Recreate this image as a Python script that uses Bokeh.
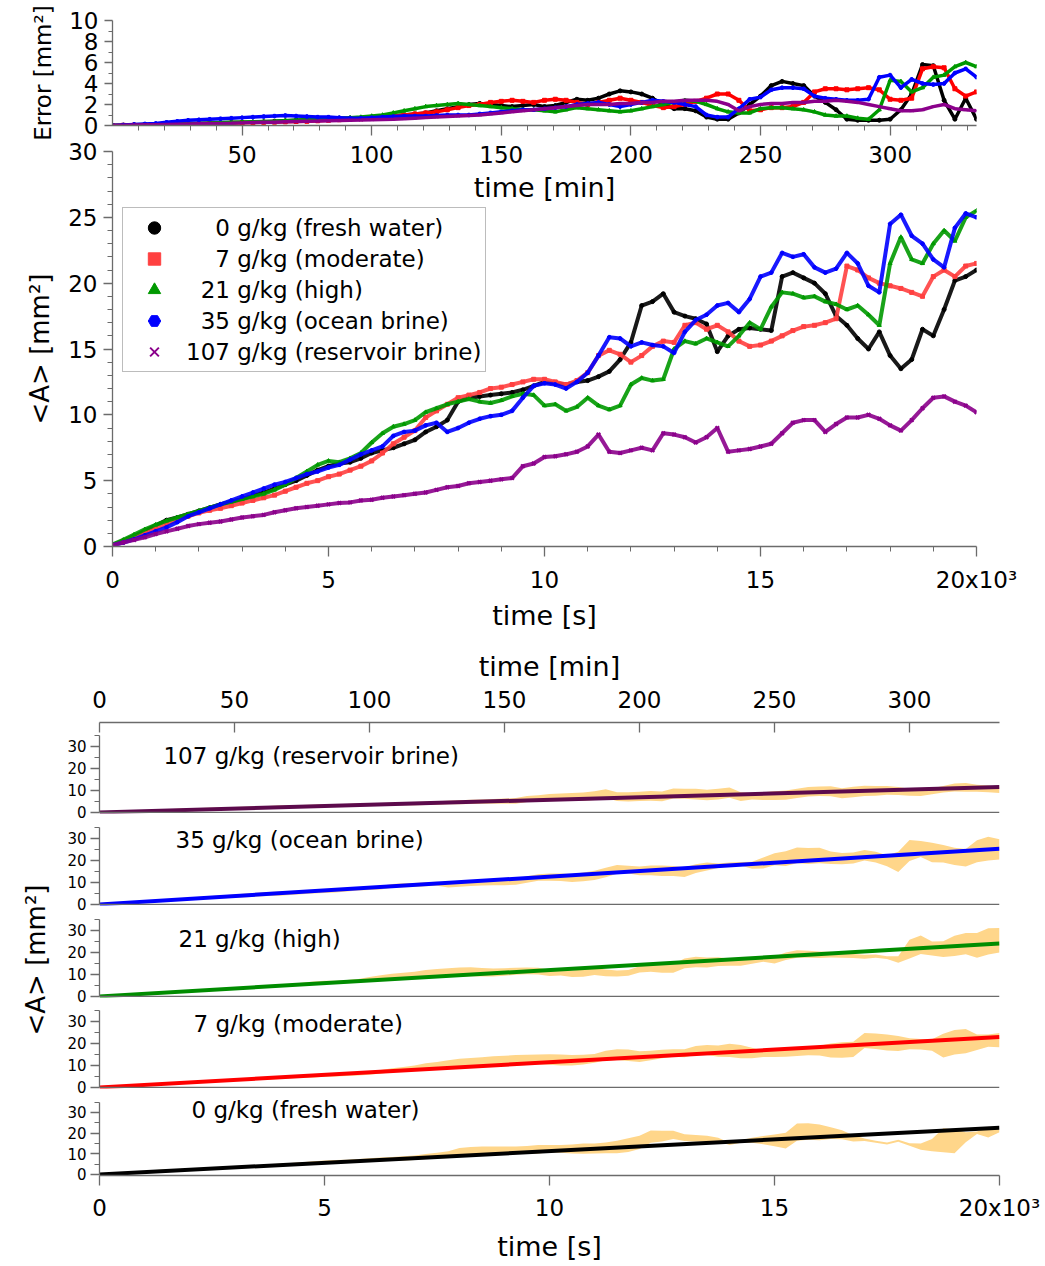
from bokeh.plotting import figure
from bokeh.models import Range1d, LinearAxis, FixedTicker, Legend, LegendItem, Span, Label
from bokeh.layouts import column, row
from bokeh.embed import file_html
from bokeh.resources import INLINE

FONT = "DejaVu Sans"
AXC = "#6b6b6b"

# ---------------- data ----------------
time_s = [0, 250, 500, 750, 1000, 1250, 1500, 1750, 2000, 2250, 2500, 2750, 3000, 3250, 3500, 3750,
          4000, 4250, 4500, 4750, 5000, 5250, 5500, 5750, 6000, 6250, 6500, 6750, 7000, 7250, 7500,
          7750, 8000, 8250, 8500, 8750, 9000, 9250, 9500, 9750, 10000, 10250, 10500, 10750, 11000,
          11250, 11500, 11750, 12000, 12250, 12500, 12750, 13000, 13250, 13500, 13750, 14000, 14250,
          14500, 14750, 15000, 15250, 15500, 15750, 16000, 16250, 16500, 16750, 17000, 17250, 17500,
          17750, 18000, 18250, 18500, 18750, 19000, 19250, 19500, 19750, 20000]

area_fresh = [0.1, 0.45, 0.8, 1.2, 1.6, 2.0, 2.2, 2.45, 2.7, 2.95, 3.2, 3.4, 3.6, 3.85, 4.1, 4.4,
              4.7, 5.0, 5.4, 5.8, 6.1, 6.3, 6.4, 6.7, 7.1, 7.3, 7.5, 7.8, 8.1, 8.7, 9.1,
              9.6, 11.0, 11.3, 11.4, 11.5, 11.6, 11.7, 11.9, 12.2, 12.5, 12.4, 12.3, 12.5, 12.6,
              12.9, 13.3, 14.2, 15.5, 18.3, 18.6, 19.2, 17.8, 17.5, 17.3, 16.9, 14.8, 16.0,
              16.5, 16.6, 16.5, 16.4, 20.5, 20.8, 20.4, 20.0, 19.2, 17.5, 16.8, 15.8, 15.0,
              16.3, 14.5, 13.5, 14.2, 16.5, 16.0, 18.0, 20.2, 20.5, 21.0]
area_moderate = [0.1, 0.4, 0.7, 1.0, 1.35, 1.7, 2.0, 2.3, 2.55, 2.75, 2.9, 3.1, 3.3, 3.5, 3.7, 3.9,
                 4.2, 4.5, 4.8, 5.0, 5.3, 5.5, 5.8, 6.1, 6.5, 7.1, 7.8, 8.3, 8.8, 9.8, 10.3,
                 10.8, 11.3, 11.5, 11.7, 12.0, 12.1, 12.3, 12.5, 12.7, 12.7, 12.5, 12.3, 12.6, 13.2,
                 14.5, 14.9, 14.6, 14.0, 14.5, 15.2, 15.6, 15.5, 16.8, 17.0, 16.5, 16.8, 16.3,
                 15.6, 15.2, 15.3, 15.6, 16.0, 16.4, 16.7, 16.8, 17.0, 17.3, 21.3, 21.0, 20.4,
                 20.0, 19.8, 19.6, 19.3, 19.0, 20.5, 21.0, 20.5, 21.3, 21.5]
area_high = [0.15, 0.5, 0.9, 1.3, 1.65, 1.95, 2.2, 2.45, 2.7, 2.95, 3.2, 3.4, 3.6, 3.8, 4.0, 4.3,
             4.7, 5.2, 5.7, 6.2, 6.5, 6.4, 6.7, 7.1, 7.9, 8.6, 9.1, 9.3, 9.6, 10.2, 10.5,
             10.8, 11.0, 11.2, 11.0, 10.9, 11.1, 11.4, 11.6, 11.5, 10.7, 10.8, 10.3, 10.6, 11.3,
             10.7, 10.4, 10.7, 12.3, 12.8, 12.6, 12.7, 15.0, 15.6, 15.4, 15.8, 15.5, 15.2,
             16.0, 17.0, 16.5, 18.2, 19.3, 19.2, 18.9, 19.0, 18.6, 18.4, 18.0, 18.3, 17.6,
             16.8, 21.5, 23.5, 21.8, 21.5, 23.0, 24.0, 23.2, 25.0, 25.5]
area_ocean = [0.1, 0.3, 0.55, 0.85, 1.15, 1.45, 1.85, 2.3, 2.6, 2.9, 3.2, 3.5, 3.8, 4.1, 4.4, 4.7,
              4.9, 5.2, 5.5, 5.7, 6.0, 6.2, 6.6, 7.0, 7.3, 7.6, 8.4, 8.7, 8.8, 9.2, 9.4,
              8.7, 9.0, 9.4, 9.7, 9.9, 10.0, 10.3, 11.3, 12.2, 12.4, 12.3, 12.0, 12.5, 13.2,
              14.5, 15.9, 15.8, 15.2, 15.5, 15.3, 15.2, 14.7, 16.3, 17.2, 17.6, 18.3, 18.5,
              17.8, 18.8, 20.5, 20.8, 22.3, 22.0, 22.2, 21.2, 20.8, 21.1, 22.3, 21.5, 19.8,
              19.3, 24.5, 25.2, 23.6, 23.0, 21.8, 21.2, 24.2, 25.3, 25.0]
area_reservoir = [0.1, 0.3, 0.5, 0.7, 0.95, 1.15, 1.35, 1.55, 1.7, 1.8, 1.9, 2.05, 2.2, 2.3, 2.4, 2.6,
                  2.75, 2.9, 3.0, 3.1, 3.2, 3.3, 3.35, 3.5, 3.55, 3.7, 3.8, 3.9, 4.0, 4.1, 4.3,
                  4.5, 4.6, 4.8, 4.9, 5.0, 5.1, 5.2, 6.1, 6.3, 6.8, 6.85, 7.0, 7.2, 7.6,
                  8.5, 7.2, 7.1, 7.3, 7.5, 7.3, 8.6, 8.5, 8.3, 7.9, 8.3, 9.0, 7.2,
                  7.3, 7.4, 7.6, 7.8, 8.6, 9.4, 9.6, 9.6, 8.7, 9.3, 9.8, 9.8, 10.0,
                  9.7, 9.2, 8.8, 9.6, 10.5, 11.3, 11.4, 11.0, 10.7, 10.2]

err_fresh = [0.0, 0.02, 0.05, 0.08, 0.1,
             0.12, 0.15, 0.18, 0.2, 0.22, 0.25, 0.28, 0.3,
             0.32, 0.35, 0.4, 0.45, 0.5, 0.55, 0.6, 0.65,
             0.7, 0.7, 0.75, 0.8, 0.85, 0.9, 1.0, 1.1,
             1.2, 1.4, 1.6, 1.8, 2.0, 2.1, 2.0, 1.9,
             1.8, 1.9, 2.0, 1.8, 1.9, 2.2, 2.5, 2.4,
             2.6, 3.0, 3.3, 3.2, 3.0, 2.6, 2.0, 1.6,
             1.6, 1.4, 0.8, 0.6, 0.6, 1.2, 2.0, 2.8,
             3.8, 4.2, 4.0, 3.8, 2.8, 2.2, 1.5, 0.6,
             0.5, 0.5, 0.5, 0.6, 1.5, 3.0, 5.8, 5.7,
             2.4, 0.6, 2.6, 0.6]
err_moderate = [0.0, 0.02, 0.04, 0.06, 0.08,
                0.1, 0.12, 0.14, 0.16, 0.18, 0.2, 0.22, 0.25,
                0.28, 0.3, 0.32, 0.35, 0.38, 0.4, 0.45, 0.5,
                0.55, 0.6, 0.65, 0.7, 0.8, 0.9, 1.0, 1.1,
                1.2, 1.3, 1.5, 1.7, 1.9, 2.0, 2.2, 2.3,
                2.4, 2.3, 2.2, 2.4, 2.5, 2.4, 2.2, 2.0,
                2.2, 2.4, 2.6, 2.4, 2.2, 1.9, 1.7, 1.8,
                2.0, 2.3, 2.6, 3.0, 3.0, 2.4, 1.4, 1.5,
                1.7, 1.7, 1.8, 2.2, 3.2, 3.5, 3.5, 3.4,
                3.5, 3.6, 3.4, 2.5, 2.4, 2.6, 5.4, 5.6,
                5.5, 3.5, 2.8, 3.2]
err_high = [0.0, 0.03, 0.06, 0.09, 0.12,
            0.15, 0.18, 0.2, 0.22, 0.25, 0.28, 0.3, 0.32,
            0.35, 0.38, 0.4, 0.45, 0.5, 0.55, 0.6, 0.65,
            0.7, 0.75, 0.8, 0.9, 1.0, 1.2, 1.4, 1.6,
            1.8, 1.9, 2.0, 2.1, 2.0, 1.9, 1.8, 1.7,
            1.6, 1.5, 1.5, 1.4, 1.3, 1.5, 1.7, 1.6,
            1.5, 1.4, 1.3, 1.4, 1.6, 1.8, 2.0, 2.2,
            2.4, 2.3, 2.0, 1.6, 1.3, 1.2, 1.2, 1.6,
            1.7, 1.7, 1.6, 1.5, 1.3, 1.0, 0.9, 0.9,
            0.7, 0.6, 1.5, 4.3, 4.2, 3.2, 3.6, 4.6,
            4.8, 5.6, 6.0, 5.6]
err_ocean = [0.0, 0.05, 0.1, 0.15, 0.2,
             0.3, 0.4, 0.5, 0.55, 0.6, 0.65, 0.7, 0.75,
             0.8, 0.85, 0.9, 0.95, 0.9, 0.85, 0.8, 0.8,
             0.75, 0.7, 0.7, 0.75, 0.8, 0.85, 0.9, 0.9,
             0.9, 0.95, 1.0, 1.0, 1.0, 1.1, 1.2, 1.3,
             1.4, 1.5, 1.5, 1.6, 1.7, 1.8, 2.0, 2.1,
             2.2, 2.0, 1.8, 2.0, 2.2, 2.4, 2.3, 2.2,
             2.0, 1.8, 1.0, 0.8, 0.8, 1.6, 2.5, 2.7,
             3.4, 3.6, 3.6, 3.5, 2.8, 2.6, 2.5, 2.4,
             2.4, 2.5, 4.6, 4.8, 3.6, 4.4, 4.0, 3.9,
             4.0, 5.0, 5.4, 4.6]
err_reservoir = [0.0, 0.02, 0.04, 0.06, 0.08,
                 0.1, 0.12, 0.14, 0.16, 0.18, 0.2, 0.22, 0.25,
                 0.28, 0.3, 0.32, 0.35, 0.38, 0.4, 0.42, 0.45,
                 0.48, 0.5, 0.52, 0.55, 0.58, 0.6, 0.65, 0.7,
                 0.75, 0.8, 0.85, 0.9, 0.95, 1.0, 1.1, 1.2,
                 1.3, 1.4, 1.5, 1.6, 1.7, 1.8, 1.9, 2.0,
                 2.0, 2.0, 2.1, 2.1, 2.2, 2.2, 2.3, 2.3,
                 2.4, 2.4, 2.4, 2.3, 2.0, 1.4, 1.8, 2.0,
                 2.1, 2.1, 2.2, 2.2, 2.3, 2.3, 2.4, 2.3,
                 2.2, 2.0, 1.8, 1.6, 1.4, 1.4, 1.5, 1.8,
                 2.0, 1.6, 1.5, 1.4]

series_names = ["0 g/kg (fresh water)", "7 g/kg (moderate)", "21 g/kg (high)",
                "35 g/kg (ocean brine)", "107 g/kg (reservoir brine)"]
legend_labels = ["\u2007\u20070 g/kg (fresh water)", "\u2007\u20077 g/kg (moderate)",
                 "\u200721 g/kg (high)", "\u200735 g/kg (ocean brine)",
                 "107 g/kg (reservoir brine)"]
fit_slope = [0.001130, 0.001145, 0.001200, 0.001265, 0.000575]   # mm^2 per s

areas = [area_fresh, area_moderate, area_high, area_ocean, area_reservoir]
errors = [err_fresh, err_moderate, err_high, err_ocean, err_reservoir]

marker_types = ["circle", "square", "triangle", "hex", "x"]
marker_colors = ["#000000", "#ff4040", "#009900", "#0000ff", "#8b008b"]
error_colors = ["#000000", "#ff0000", "#009900", "#0000ff", "#8b008b"]
fit_colors = ["#000000", "#ff0000", "#008c00", "#0000ff", "#5c0a4c"]
band_color = "#ffd68a"

X_MAX = 20000


def style_axis(ax, tick_size="23px", title_size="27px", major_out=10, minor_out=5,
               major_in=0, minor_in=0, standoff=10, title_standoff=6):
    ax.axis_line_color = AXC
    ax.axis_line_width = 1.3
    ax.major_tick_line_color = AXC
    ax.minor_tick_line_color = AXC
    ax.major_tick_line_width = 1.3
    ax.minor_tick_line_width = 1.0
    ax.major_tick_out = major_out
    ax.major_tick_in = major_in
    ax.minor_tick_out = minor_out
    ax.minor_tick_in = minor_in
    ax.major_label_text_font = FONT
    ax.major_label_text_font_size = tick_size
    ax.major_label_text_color = "black"
    ax.major_label_standoff = standoff
    ax.axis_label_text_font = FONT
    ax.axis_label_text_font_size = title_size
    ax.axis_label_text_font_style = "normal"
    ax.axis_label_text_color = "black"
    ax.axis_label_standoff = title_standoff


def base_fig(**kw):
    p = figure(output_backend="svg", toolbar_location=None,
               x_axis_location=None, y_axis_location=None, **kw)
    p.xgrid.visible = False
    p.ygrid.visible = False
    p.outline_line_color = None
    p.background_fill_color = None
    p.border_fill_color = None
    return p


# ---------------- error panel ----------------
pe = base_fig(width=1045, height=213, x_range=Range1d(0, X_MAX), y_range=Range1d(0, 10),
              min_border_left=112, min_border_right=69, min_border_top=20, min_border_bottom=88)
pe.extra_x_ranges = {"min": Range1d(0, X_MAX / 60)}
ax_e = LinearAxis(x_range_name="min", axis_label="time [min]",
                  ticker=FixedTicker(ticks=[50, 100, 150, 200, 250, 300],
                                     minor_ticks=[10, 20, 30, 40, 60, 70, 80, 90, 110, 120, 130, 140,
                                                  160, 170, 180, 190, 210, 220, 230, 240, 260, 270,
                                                  280, 290, 310, 320, 330]))
style_axis(ax_e)
pe.add_layout(ax_e, "below")
ay_e = LinearAxis(axis_label="Error [mm\u00b2]",
                  ticker=FixedTicker(ticks=[0, 2, 4, 6, 8, 10], minor_ticks=[1, 3, 5, 7, 9]))
style_axis(ay_e, title_size="23px", major_out=8, minor_out=4, standoff=6, title_standoff=10)
pe.add_layout(ay_e, "left")
for k in range(5):
    pe.line(time_s, errors[k], line_color=error_colors[k], line_width=3.5)
    pe.scatter(time_s, errors[k], marker=marker_types[k], size=4,
               fill_color=error_colors[k], line_color=error_colors[k])

# ---------------- main panel ----------------
pm = base_fig(width=1045, height=498, x_range=Range1d(0, X_MAX), y_range=Range1d(0, 30),
              min_border_left=112, min_border_right=69, min_border_top=16, min_border_bottom=86)
pm.margin = (-78, 0, 0, 0)
ax_m = LinearAxis(axis_label="time [s]",
                  ticker=FixedTicker(ticks=[0, 5000, 10000, 15000, 20000],
                                     minor_ticks=[1000, 2000, 3000, 4000, 6000, 7000, 8000, 9000,
                                                  11000, 12000, 13000, 14000, 16000, 17000, 18000, 19000]))
ax_m.major_label_overrides = {0: "0", 5000: "5", 10000: "10", 15000: "15", 20000: "20x10\u00b3"}
style_axis(ax_m, title_standoff=4)
pm.add_layout(ax_m, "below")
ay_m = LinearAxis(axis_label="<A> [mm\u00b2]",
                  ticker=FixedTicker(ticks=[0, 5, 10, 15, 20, 25, 30],
                                     minor_ticks=[v for v in range(0, 31) if v % 5]))
style_axis(ay_m, title_size="26px", major_out=9, minor_out=5, standoff=6, title_standoff=10)
pm.add_layout(ay_m, "left")

scatters = []
for k in range(5):
    pm.line(time_s, areas[k], line_color=marker_colors[k], line_width=4, line_alpha=0.9)
    if marker_types[k] == "x":
        r = pm.scatter(time_s, areas[k], marker="x", size=5, line_color=marker_colors[k],
                       line_width=2)
    else:
        r = pm.scatter(time_s, areas[k], marker=marker_types[k], size=4,
                       fill_color=marker_colors[k], line_color=marker_colors[k])
    scatters.append(r)

legend = Legend(items=[LegendItem(label=legend_labels[k], renderers=[scatters[k]]) for k in range(5)],
                location=(10, 174))
legend.label_text_font = FONT
legend.label_text_font_size = "23px"
legend.label_text_color = "black"
legend.border_line_color = "#7a7a7a"
legend.border_line_width = 1.2
legend.background_fill_color = "white"
legend.background_fill_alpha = 1.0
legend.padding = 4
legend.spacing = 0
legend.margin = 0
legend.label_height = 31
legend.glyph_height = 31
legend.glyph_width = 54
legend.label_standoff = 5
pm.add_layout(legend, "center")

# ---------------- stacked panels ----------------
panel_order = [4, 3, 2, 1, 0]            # top to bottom
frame_h = [91, 83, 83, 82, 83]
top_border = [89, 0, 0, 0, 0]
bottom_border = [9, 9, 9, 9, 84]
label_x = [1422, 1689, 1756, 2089, 2044]  # text placement (seconds)
label_y = [25.5, 29.5, 26.0, 29.0, 31.0]
PX_PER_UNIT = 2.2

panels = []
for i, k in enumerate(panel_order):
    p = base_fig(width=990, height=frame_h[i] + top_border[i] + bottom_border[i],
                 x_range=Range1d(0, X_MAX),
                 y_range=Range1d(-0.5, -0.5 + frame_h[i] / PX_PER_UNIT),
                 min_border_left=44, min_border_right=46,
                 min_border_top=top_border[i], min_border_bottom=bottom_border[i])
    ay = LinearAxis(bounds=(0, 35), ticker=FixedTicker(ticks=[0, 10, 20, 30], minor_ticks=[5, 15, 25, 35]))
    style_axis(ay, tick_size="15px", major_out=9, minor_out=5, standoff=4)
    p.add_layout(ay, "left")
    if i == 0:
        p.extra_x_ranges = {"min": Range1d(0, X_MAX / 60)}
        ax_t = LinearAxis(x_range_name="min", axis_label="time [min]",
                          ticker=FixedTicker(ticks=[0, 50, 100, 150, 200, 250, 300], minor_ticks=[]))
        style_axis(ax_t, major_out=0, major_in=10, minor_out=0, standoff=15, title_standoff=6)
        p.add_layout(ax_t, "above")
    if i == 4:
        ax_b = LinearAxis(axis_label="time [s]",
                          ticker=FixedTicker(ticks=[0, 5000, 10000, 15000, 20000], minor_ticks=[]))
        ax_b.major_label_overrides = {0: "0", 5000: "5", 10000: "10", 15000: "15", 20000: "20x10\u00b3"}
        style_axis(ax_b, major_out=10, minor_out=0, standoff=9, title_standoff=7)
        p.add_layout(ax_b, "below")
    else:
        p.add_layout(Span(location=0, dimension="width", line_color=AXC, line_width=1.3))
    lower = [a - e for a, e in zip(areas[k], errors[k])]
    upper = [a + e for a, e in zip(areas[k], errors[k])]
    p.varea(x=time_s, y1=lower, y2=upper, fill_color=band_color, fill_alpha=1.0)
    p.line([0, X_MAX], [0, fit_slope[k] * X_MAX], line_color=fit_colors[k], line_width=4)
    p.add_layout(Label(x=label_x[i], y=label_y[i], text=series_names[k], text_font=FONT,
                       text_font_size="23px", text_baseline="middle", text_color="black"))
    panels.append(p)

lab_h = sum(frame_h) + sum(top_border) + sum(bottom_border)
lab = base_fig(width=55, height=lab_h, x_range=Range1d(0, 1), y_range=Range1d(0, 1),
               min_border_left=52, min_border_right=0, min_border_top=32, min_border_bottom=10)
ay_l = LinearAxis(axis_label="<A> [mm\u00b2]", ticker=FixedTicker(ticks=[], minor_ticks=[]))
style_axis(ay_l, title_size="26px", major_out=0, minor_out=0, standoff=0, title_standoff=2)
ay_l.axis_line_color = None
lab.add_layout(ay_l, "left")

bottom = row(lab, column(*panels, spacing=0), spacing=0)
bottom.margin = (0, 0, 0, 0)

layout = column(pe, pm, bottom, spacing=0)
open("out.html", "w").write(file_html(layout, INLINE, title="salinity"))
